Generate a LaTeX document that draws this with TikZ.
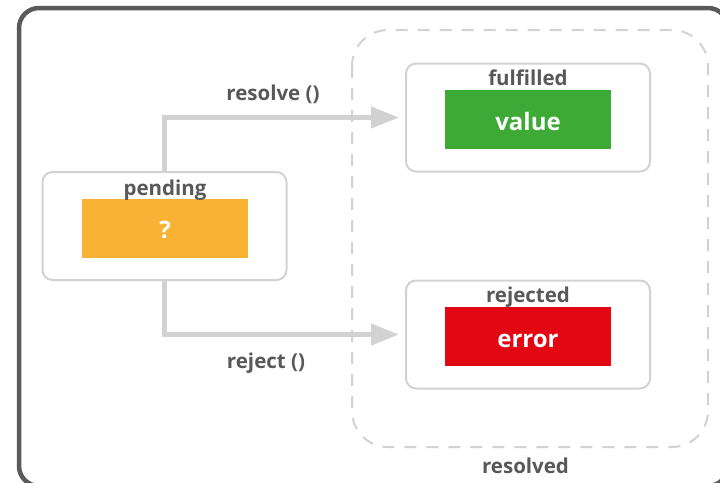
\documentclass[tikz,border=0pt]{standalone}
\usepackage{fontspec}
\setmainfont{Open Sans}
\usetikzlibrary{arrows.meta,positioning}
\definecolor{txtgray}{HTML}{585858}
\definecolor{boxgray}{HTML}{D2D2D2}
\definecolor{framegray}{HTML}{5A5A5A}
\definecolor{pendorange}{HTML}{F9B233}
\definecolor{fulgreen}{HTML}{3DAA35}
\definecolor{rejred}{HTML}{E30613}
\tikzset{
  statebox/.style={draw=boxgray, line width=2pt, rounded corners=10pt, minimum width=244pt, minimum height=108pt},
  valbox/.style={fill=#1, text=white, font=\fontsize{24}{24}\selectfont\bfseries, minimum width=166pt, minimum height=59pt, inner sep=0pt, text height=21pt, text depth=0pt},
  lbl/.style={text=txtgray, font=\fontsize{20.5}{20.5}\selectfont\bfseries, inner sep=0pt, anchor=base},
  flow/.style={draw=boxgray, line width=4.5pt, -{Triangle[length=28pt,width=21pt]}, shorten >=6pt}
}
\begin{document}
\begin{tikzpicture}[x=1pt,y=-1pt]
			%%%%% START %%%%%
			\useasboundingbox (0,0) rectangle (720,482);
			
			\draw[framegray, line width=4.5pt, rounded corners=20pt] (19,8) rectangle (728,486);
			\draw[boxgray, line width=2pt, dashed, dash pattern=on 12pt off 10pt, rounded corners=36pt] (352,30) rectangle (708,447);
			\node[lbl] (resl) at (525.5,473) {resolved};
			
			\node[statebox] (pend) at (164.5,226) {};
			\node[valbox=pendorange] (q) at (165,228) {?};
			\node[lbl] (pendl) at ([yshift=3pt]q.north) {pending};
			
			\node[statebox] (ful) at (528,117.5) {};
			\node[valbox=fulgreen] (val) at (528,119.5) {value};
			\node[lbl] (full) at ([yshift=4pt]val.north) {fulfilled};
			
			\node[statebox] (rej) at (528,334.5) {};
			\node[valbox=rejred] (err) at (528,336.5) {error};
			\node[lbl] (rejl) at ([yshift=4pt]err.north) {rejected};
			
			\draw[flow] (pend.north) |- (ful.west);
			\draw[flow] (pend.south) |- (rej.west);
			\node[lbl] (resv) at (273,100) {resolve ()};
			\node[lbl] (rejt) at (266,368) {reject ()};
			
			%%%%% END %%%%%
		\end{tikzpicture}
\end{document}
